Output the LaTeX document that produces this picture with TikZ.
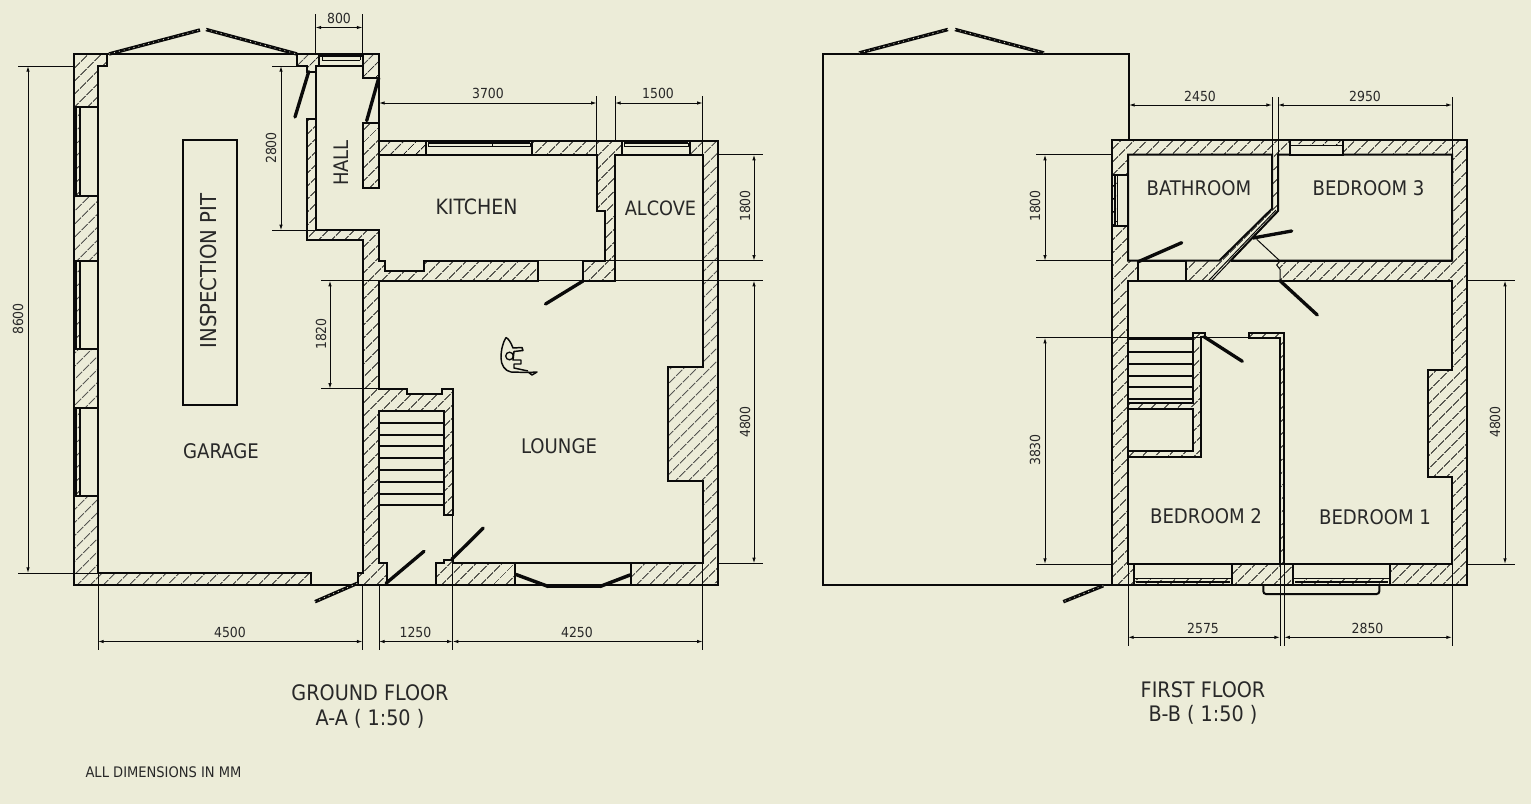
\documentclass[tikz,border=0pt]{standalone}
\usepackage{fontspec}
\setmainfont{DejaVu Sans Condensed}
\usetikzlibrary{arrows.meta,patterns.meta}
\definecolor{bg}{RGB}{236,236,216}
\definecolor{ink}{RGB}{10,10,10}
\definecolor{txt}{RGB}{40,40,40}
\tikzset{
 hatchfill/.style={pattern={Lines[angle=45,distance=6.9pt,line width=.72pt]},pattern color=ink},
 wall/.style={hatchfill,draw=ink,line width=1.5pt,line join=miter},
 room/.style={fill=bg,draw=ink,line width=1.5pt},
 edge/.style={draw=ink,line width=1.5pt},
 fine/.style={draw=ink,line width=.75pt},
 tread/.style={draw=ink,line width=1.4pt},
 ext/.style={draw=ink,line width=.7pt},
 dimen/.style={draw=ink,line width=.7pt,{Latex[length=4.2pt,width=2.6pt]}-{Latex[length=4.2pt,width=2.6pt]}},
 leaf/.style={draw=ink,line width=2.5pt,line cap=round},
 roofl/.style={draw=ink,line width=2.6pt,postaction={draw=bg,line width=.5pt,dash pattern=on .8pt off 3pt}},
 dimtxt/.style={text=txt,font=\fontsize{10.4}{12}\selectfont,inner sep=0pt},
 roomtxt/.style={text=txt,font=\fontsize{15.1}{17}\selectfont,inner sep=0pt},
 titletxt/.style={text=txt,font=\fontsize{16}{18}\selectfont,inner sep=0pt},
 notetxt/.style={text=txt,font=\fontsize{10.9}{12}\selectfont,inner sep=0pt},
}
\begin{document}
\begin{tikzpicture}[x=.75pt,y=-.75pt]
\path[fill=bg] (0,0) rectangle (1531,804);
\useasboundingbox (0,0) rectangle (1531,804);

%%%%% GROUND FLOOR
% walls
\path[wall] (74,54)--(107,54)--(107,66)--(98,66)--(98,573)--(311,573)--(311,584.5)--(74,584.5)--cycle;
\foreach \a/\b in {107/196,261/349,408/496}{
  \path[room] (74,\a) rectangle (98,\b);
  \path[hatchfill] (74,\a) rectangle (80,\b);
  \draw[edge] (80,\a)--(80,\b);
  \draw[draw=ink,line width=2.4pt] (75.5,\a)--(75.5,\b);
}
\draw[edge] (107,54)--(297,54);
\path[roofl] (109,54)--(200,30);
\path[roofl] (206,29.5)--(297,54);
\path[wall] (297,54)--(319,54)--(319,66)--(316,66)--(316,71.7)--(307,71.7)--(307,66)--(297,66)--cycle;
\path[wall] (362.7,54)--(379,54)--(379,78)--(362.7,78)--cycle;
\path[room] (319,54) rectangle (362.7,66);
\draw[draw=ink,line width=2.2pt] (319,56)--(362.7,56);
\draw[fine] (322,60)--(360,60) (322,56)--(322,60) (360,56)--(360,60);
\draw[edge] (316,66)--(316,119);
\draw[edge] (379,78)--(379,123);
\path[wall] (307,119)--(316,119)--(316,230.3)--(379.3,230.3)--(379.3,260.7)--(385.3,260.7)--(385.3,270.7)--(424,270.7)--(424,260.7)--(538.3,260.7)--(538.3,280.7)--(379.3,280.7)--(379.3,388.7)--(407.3,388.7)--(407.3,394)--(442,394)--(442,388.7)--(453.3,388.7)--(453.3,515.3)--(444,515.3)--(444,410.7)--(379.3,410.7)--(379.3,563.3)--(387.3,563.3)--(387.3,584.5)--(358.3,584.5)--(358.3,572.5)--(362.7,572.5)--(362.7,239.5)--(307,239.5)--cycle;
\path[wall] (363,123)--(379,123)--(379,188)--(363,188)--cycle;
\path[wall] (379,140.5)--(426,140.5)--(426,154.7)--(379,154.7)--cycle;
\path[wall] (532,140.5)--(622,140.5)--(622,154.7)--(615,154.7)--(615,280.7)--(583.3,280.7)--(583.3,260.7)--(605,260.7)--(605,210.7)--(596.7,210.7)--(596.7,154.7)--(532,154.7)--cycle;
\path[wall] (690,140.5)--(718,140.5)--(718,584.5)--(630.7,584.5)--(630.7,563.3)--(702.7,563.3)--(702.7,481)--(668.3,481)--(668.3,367)--(702.7,367)--(702.7,154.7)--(690,154.7)--cycle;
\path[wall] (436,584.5)--(436,563.3)--(444,563.3)--(444,560)--(452.7,560)--(452.7,563.3)--(515.3,563.3)--(515.3,584.5)--cycle;
% kitchen and alcove windows
\path[room] (426,140.5) rectangle (532,154.7);
\draw[draw=ink,line width=2pt] (428,142.5)--(530,142.5);
\draw[fine] (428,146.7)--(530,146.7) (428,142.5)--(428,146.7) (492.7,142.5)--(492.7,146.7) (530,142.5)--(530,146.7);
\path[room] (622,140.5) rectangle (690,154.7);
\draw[draw=ink,line width=2pt] (624,142.5)--(688,142.5);
\draw[fine] (624,146.7)--(688,146.7) (624,142.5)--(624,146.7) (688,142.5)--(688,146.7);
% stairs
\foreach \y in {422.7,435,446,457.7,469.7,482,493.7,505}{\draw[tread] (379.3,\y)--(444,\y);}
% bay window
\draw[edge] (515.3,584.5)--(515.3,562.8)--(630.7,562.8)--(630.7,584.5);
\path[leaf,line width=2.6pt] (516,574.5)--(548.3,586.5);
\path[leaf,line width=2.6pt] (600,586.5)--(630,575);
\draw[draw=ink,line width=1.7pt] (548.3,586.6)--(600,586.6);
\draw[edge] (74,584.5)--(718,584.5);
% doors
\path[leaf] (308.7,71.7)--(295,117);
\path[leaf] (378.7,78)--(366.7,120.7);
\path[leaf] (583,281)--(545.5,304);
\path[leaf] (386,583.3)--(424,551.3);
\path[leaf] (451.7,559.3)--(483.3,528);
\path[roofl] (357.3,583.3)--(315,601.7);
% pit
\draw[edge] (183,140) rectangle (237,405);
% figure
\draw[draw=ink,line width=1.1pt,line join=round]
 (506,337.5) .. controls (503,342) and (501,350) .. (501,358)
 .. controls (501,365) and (505,371) .. (511,372) -- (528,372.5) -- (537,372) -- (532,375) -- (528,372);
\draw[draw=ink,line width=1.1pt,line join=round]
 (506,337.5) .. controls (509,339) and (511,343) .. (513,348) -- (522,347.5) -- (523,350.5) -- (514,351.5) -- (513,360) -- (521,360) -- (521,364) -- (514,364) -- (514,368) -- (528,371);
\draw[draw=ink,line width=1pt] (509.5,356) circle (3.8);

% ground floor dimension lines
\draw[ext] (18,66)--(74,66) (18,573)--(98,573);
\draw[dimen] (28,66)--(28,573);
\draw[ext] (315.5,14)--(315.5,54) (362.5,14)--(362.5,54);
\draw[dimen] (315.5,27.5)--(362.5,27.5);
\draw[ext] (272,66)--(297,66) (272,230.3)--(316,230.3);
\draw[dimen] (281,66)--(281,230.3);
\draw[ext] (379,96)--(379,140) (596.7,96)--(596.7,154.7) (615,96)--(615,140) (702.7,96)--(702.7,154.7);
\draw[dimen] (379,103)--(596.7,103);
\draw[dimen] (615,103)--(702.7,103);
\draw[ext] (718,154.7)--(763,154.7) (538.3,260.7)--(763,260.7) (321,280.7)--(763,280.7) (718,563.3)--(763,563.3) (321,388.7)--(379.3,388.7);
\draw[dimen] (754,154.7)--(754,260.7);
\draw[dimen] (754,280.7)--(754,563.3);
\draw[dimen] (330,280.7)--(330,388.7);
\draw[ext] (98,573)--(98,650) (362.5,584)--(362.5,650) (379,584)--(379,650) (452.7,515)--(452.7,650) (702.7,563)--(702.7,650);
\draw[dimen] (98,641.5)--(362.5,641.5);
\draw[dimen] (379,641.5)--(452.7,641.5);
\draw[dimen] (452.7,641.5)--(702.7,641.5);

\node[dimtxt] (d8600) at (18,319) [rotate=90] {8600};
\node[dimtxt] (d800) at (339,18.5) {800};
\node[dimtxt] (d2800) at (271,148) [rotate=90] {2800};
\node[dimtxt] (d3700) at (488,93.5) {3700};
\node[dimtxt] (d1500) at (658,93.5) {1500};
\node[dimtxt] (d1800a) at (745,206) [rotate=90] {1800};
\node[dimtxt] (d4800a) at (745,422) [rotate=90] {4800};
\node[dimtxt] (d1820) at (321,334) [rotate=90] {1820};
\node[dimtxt] (d4500) at (230,632) {4500};
\node[dimtxt] (d1250) at (415.5,632) {1250};
\node[dimtxt] (d4250) at (577,632) {4250};

\node[roomtxt] (garage) at (221,451) {GARAGE};
\node[roomtxt,font=\fontsize{16.4}{18}\selectfont] (pit) at (209,271) [rotate=90] {INSPECTION PIT};
\node[roomtxt,font=\fontsize{15}{17}\selectfont] (hall) at (341,163) [rotate=90] {HALL};
\node[roomtxt,font=\fontsize{15.8}{17}\selectfont] (kitchen) at (476.5,207) {KITCHEN};
\node[roomtxt,font=\fontsize{14.8}{17}\selectfont] (alcove) at (660.5,208) {ALCOVE};
\node[roomtxt] (lounge) at (559,446) {LOUNGE};
\node[titletxt] (gf) at (370,693) {GROUND FLOOR};
\node[titletxt] (aa) at (370,718.5) {A-A ( 1:50 )};
\node[notetxt] (note) at (163.5,772) {ALL DIMENSIONS IN MM};

%%%%% FIRST FLOOR
\draw[edge] (1129,140)--(1129,54)--(823,54)--(823,584.5)--(1112,584.5);
\path[roofl] (859,53)--(948,29.5);
\path[roofl] (955,29.5)--(1044,53);
% shell
\path[wall] (1112,140) rectangle (1467,584.5);
% rooms
\path[room] (1128,154.7)--(1272,154.7)--(1272,208.7)--(1219.3,260.7)--(1128,260.7)--cycle;
\path[room] (1278,154.7)--(1452,154.7)--(1452,260.7)--(1230.6,260.7)--(1278,211)--cycle;
\path[room] (1128,280.7)--(1452,280.7)--(1452,370)--(1428,370)--(1428,477.3)--(1452,477.3)--(1452,564)--(1128,564)--cycle;
% openings
\path[fill=bg] (1211.5,281)--(1230.6,260.7)--(1280,260.7)--(1276.7,265)--(1280,269.3)--(1280,280)--cycle;
\draw[edge] (1230.6,260.7)--(1452,260.7) (1128,280.7)--(1452,280.7);
\draw[fine] (1278,211)--(1211.5,280.7) (1276,210)--(1208.5,280.7);
\draw[fine] (1256.7,239.3)--(1280,261)--(1276.7,265)--(1280,269.3)--(1280,280.7);
\path[room] (1138,260.7) rectangle (1186,280.7);
% windows in first floor
\path[room] (1112,174.7) rectangle (1128,226);
\path[hatchfill] (1112,174.7) rectangle (1117.3,226);
\draw[draw=ink,line width=2.2pt] (1115,176)--(1115,225);
\draw[fine] (1117.3,174.7)--(1117.3,226);
\path[room] (1290,140) rectangle (1342.7,154.7);
\path[hatchfill] (1290,141) rectangle (1342.7,145.3);
\draw[fine,line width=1.1pt] (1290,145.3)--(1342.7,145.3);
\foreach \a/\b in {1134.3/1232,1293.3/1390}{
  \path[room] (\a,564) rectangle (\b,584.5);
  \path[hatchfill] (\a,578.3) rectangle (\b,584.5);
  \draw[fine,line width=1.1pt] (\a,578.3)--(\b,578.3);
  \draw[draw=ink,line width=1.8pt] (\a+2,581.8)--(\b-2,581.8);
}
\draw[edge,rounded corners=2pt] (1263.3,585)--(1263.3,594)--(1379.3,594)--(1379.3,585);
% stair block
\path[wall] (1128,338)--(1193.3,338)--(1193.3,332.7)--(1204.7,332.7)--(1204.7,337.3)--(1201.3,337.3)--(1201.3,456.7)--(1128,456.7)--cycle;
\path[room] (1128,338.3) rectangle (1193.3,403.3);
\path[room] (1128,408.7) rectangle (1193.3,450.7);
\draw[draw=ink,line width=2.1pt] (1128,338.8)--(1193.3,338.8);
\foreach \y in {351.7,364,376,387.3,399.3}{\draw[tread] (1128,\y)--(1193.3,\y);}
% partition
\path[wall] (1248.7,332.7)--(1284.3,332.7)--(1284.3,564)--(1280,564)--(1280,338)--(1248.7,338)--cycle;
\draw[edge] (1112,584.5)--(1467,584.5);
% doors
\path[leaf] (1138.3,261.7)--(1181.7,242.7);
\path[leaf] (1253,238)--(1291.7,231);
\path[leaf] (1280,280.7)--(1317.3,315);
\path[leaf] (1204,336.7)--(1242.3,361.3);
\path[roofl] (1103.3,585.7)--(1063.3,601.7);
% first floor dimension lines
\draw[ext] (1036,154.7)--(1112,154.7) (1036,260.7)--(1112,260.7) (1036,337.7)--(1248.7,337.7) (1036,564)--(1112,564) (1467,280.7)--(1515,280.7) (1467,564)--(1515,564);
\draw[dimen] (1045,154.7)--(1045,260.7);
\draw[dimen] (1045,337.7)--(1045,564);
\draw[dimen] (1505,280.7)--(1505,564);
\draw[ext] (1272,97)--(1272,154.7) (1278,97)--(1278,154.7) (1452,97)--(1452,154.7);
\draw[dimen] (1129,105)--(1272,105);
\draw[dimen] (1278,105)--(1452,105);
\draw[ext] (1128,564)--(1128,646) (1280,564)--(1280,646) (1284.3,564)--(1284.3,646) (1452,564)--(1452,646);
\draw[dimen] (1128,637.3)--(1280,637.3);
\draw[dimen] (1284.3,637.3)--(1452,637.3);

\node[dimtxt] (d1800b) at (1035,206) [rotate=90] {1800};
\node[dimtxt] (d3830) at (1035,450) [rotate=90] {3830};
\node[dimtxt] (d4800b) at (1495,422) [rotate=90] {4800};
\node[dimtxt] (d2450) at (1200,96) {2450};
\node[dimtxt] (d2950) at (1365,96) {2950};
\node[dimtxt] (d2575) at (1203,628) {2575};
\node[dimtxt] (d2850) at (1367.5,628) {2850};

\node[roomtxt] (bath) at (1199,188) {BATHROOM};
\node[roomtxt] (bed3) at (1368.5,188) {BEDROOM 3};
\node[roomtxt] (bed2) at (1206,516) {BEDROOM 2};
\node[roomtxt] (bed1) at (1375,517) {BEDROOM 1};
\node[titletxt] (ff) at (1203,689.5) {FIRST FLOOR};
\node[titletxt] (bb) at (1203,715) {B-B ( 1:50 )};
\end{tikzpicture}
\end{document}
